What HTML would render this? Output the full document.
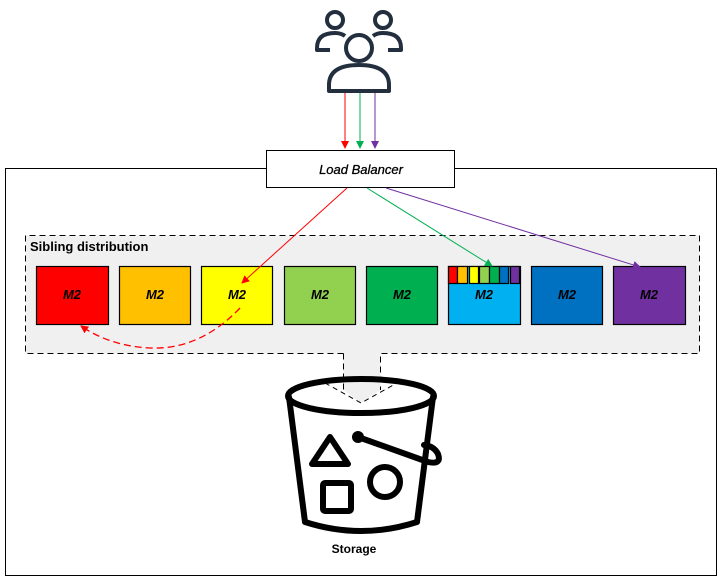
<!DOCTYPE html>
<html><head><style>body{margin:0;background:#fff}svg{display:block}</style></head><body>
<svg width="721" height="584" viewBox="0 0 721 584" xmlns="http://www.w3.org/2000/svg" font-family="Liberation Sans, sans-serif">
<defs>
<marker id="ar" markerWidth="8" markerHeight="8" refX="7" refY="4" orient="auto" markerUnits="userSpaceOnUse"><path d="M0,0 L8,4 L0,8z" fill="#f00"/></marker>
<marker id="ag" markerWidth="8" markerHeight="8" refX="7" refY="4" orient="auto" markerUnits="userSpaceOnUse"><path d="M0,0 L8,4 L0,8z" fill="#00b050"/></marker>
<marker id="ap" markerWidth="8" markerHeight="8" refX="7" refY="4" orient="auto" markerUnits="userSpaceOnUse"><path d="M0,0 L8,4 L0,8z" fill="#7030a0"/></marker>
</defs>
<rect x="5.5" y="168.5" width="711" height="407" fill="#fff" stroke="#000"/>
<path d="M25.5,235.5 H699.5 V353.5 H380.5 V390 L361,403 L343.5,390 V353.5 H25.5 Z" fill="#f0f0f0" stroke="none"/>
<path d="M343.5,353.5 H25.5 V235.5 H699.5 V353.5 H380.5 V390" fill="none" stroke="#000" stroke-dasharray="6,4"/>
<path d="M343.5,353.5 V390" fill="none" stroke="#000" stroke-dasharray="6,4"/>
<text x="30" y="251" font-size="13" font-weight="bold" fill="#000">Sibling distribution</text>
<g stroke="#000" stroke-width="1.2">
<rect x="36.5" y="266.5" width="72" height="58" fill="#ff0000"/>
<rect x="119.5" y="266.5" width="71" height="58" fill="#ffc000"/>
<rect x="201.5" y="266.5" width="71" height="58" fill="#ffff00"/>
<rect x="284.5" y="266.5" width="71" height="58" fill="#92d050"/>
<rect x="366.5" y="266.5" width="71" height="58" fill="#00b050"/>
<rect x="448.5" y="266.5" width="72" height="58" fill="#00b0f0"/>
<rect x="531.5" y="266.5" width="71" height="58" fill="#0070c0"/>
<rect x="613.5" y="266.5" width="72" height="58" fill="#7030a0"/>
<rect x="448.5" y="266.5" width="9" height="17" fill="#ff0000"/>
<rect x="457.5" y="266.5" width="10" height="17" fill="#ffc000"/>
<rect x="469.5" y="266.5" width="9" height="17" fill="#ffff00"/>
<rect x="479.5" y="266.5" width="10" height="17" fill="#92d050"/>
<rect x="489.5" y="266.5" width="10" height="17" fill="#00b050"/>
<rect x="499.5" y="266.5" width="9" height="17" fill="#0070c0"/>
<rect x="510.5" y="266.5" width="9" height="17" fill="#7030a0"/>
</g>
<g font-size="13" font-weight="bold" font-style="italic" text-anchor="middle" fill="#000">
<text x="72" y="299">M2</text><text x="155" y="299">M2</text><text x="237" y="299">M2</text><text x="320" y="299">M2</text><text x="402" y="299">M2</text><text x="484" y="299">M2</text><text x="567" y="299">M2</text><text x="649" y="299">M2</text>
</g>
<g fill="none" stroke="#000" stroke-width="6" stroke-linejoin="round" stroke-linecap="round">
<ellipse cx="361" cy="396" rx="73" ry="17"/>
<path d="M289,397 L305,522 Q361,540 417,522 L433,397"/>
<path d="M312,464 L330,437 L348,464 Z"/>
<rect x="323" y="483" width="28" height="28" rx="2"/>
<circle cx="385" cy="482" r="15"/>
<path d="M358,437 L428,462 Q442,465 438,454 Q434,446 424,445"/>
</g>
<circle cx="358" cy="437" r="6" fill="#000"/>
<path d="M325,383 L361,403 L397,383" fill="none" stroke="#000" stroke-dasharray="5,4" stroke-width="1"/>
<text x="354" y="553" font-size="12" font-weight="bold" text-anchor="middle" fill="#000">Storage</text>
<g fill="none" stroke="#232f3e" stroke-width="4" stroke-linejoin="round">
<circle cx="335" cy="20" r="8"/>
<circle cx="383" cy="20" r="8"/>
<path d="M330,50 H317 V48 Q317,33 335,33 Q341,33 345,36"/>
<path d="M388,50 H401 V48 Q401,33 383,33 Q377,33 373,36"/>
<circle cx="359" cy="48" r="13"/>
<path d="M329,91 V85 Q329,65 359,65 Q389,65 389,85 V91 Z"/>
</g>
<line x1="345" y1="93" x2="345" y2="148" stroke="#f00" marker-end="url(#ar)"/>
<line x1="360" y1="93" x2="360" y2="148" stroke="#00b050" marker-end="url(#ag)"/>
<line x1="375" y1="93" x2="375" y2="148" stroke="#7030a0" marker-end="url(#ap)"/>
<rect x="266.5" y="150.5" width="188" height="37" fill="#fff" stroke="#000"/>
<text x="361" y="174" font-size="13" font-style="italic" text-anchor="middle" fill="#000" stroke="#000" stroke-width="0.3">Load Balancer</text>
<line x1="347" y1="188" x2="242" y2="283" stroke="#f00" marker-end="url(#ar)"/>
<line x1="367" y1="188" x2="492" y2="266" stroke="#00b050" marker-end="url(#ag)"/>
<line x1="386" y1="188" x2="640" y2="267" stroke="#7030a0" marker-end="url(#ap)"/>
<path d="M240,308 Q200,350 150,348 Q110,346 81,326" fill="none" stroke="#f00" stroke-width="1.3" stroke-dasharray="7,4" marker-end="url(#ar)"/>
</svg>
</body></html>
